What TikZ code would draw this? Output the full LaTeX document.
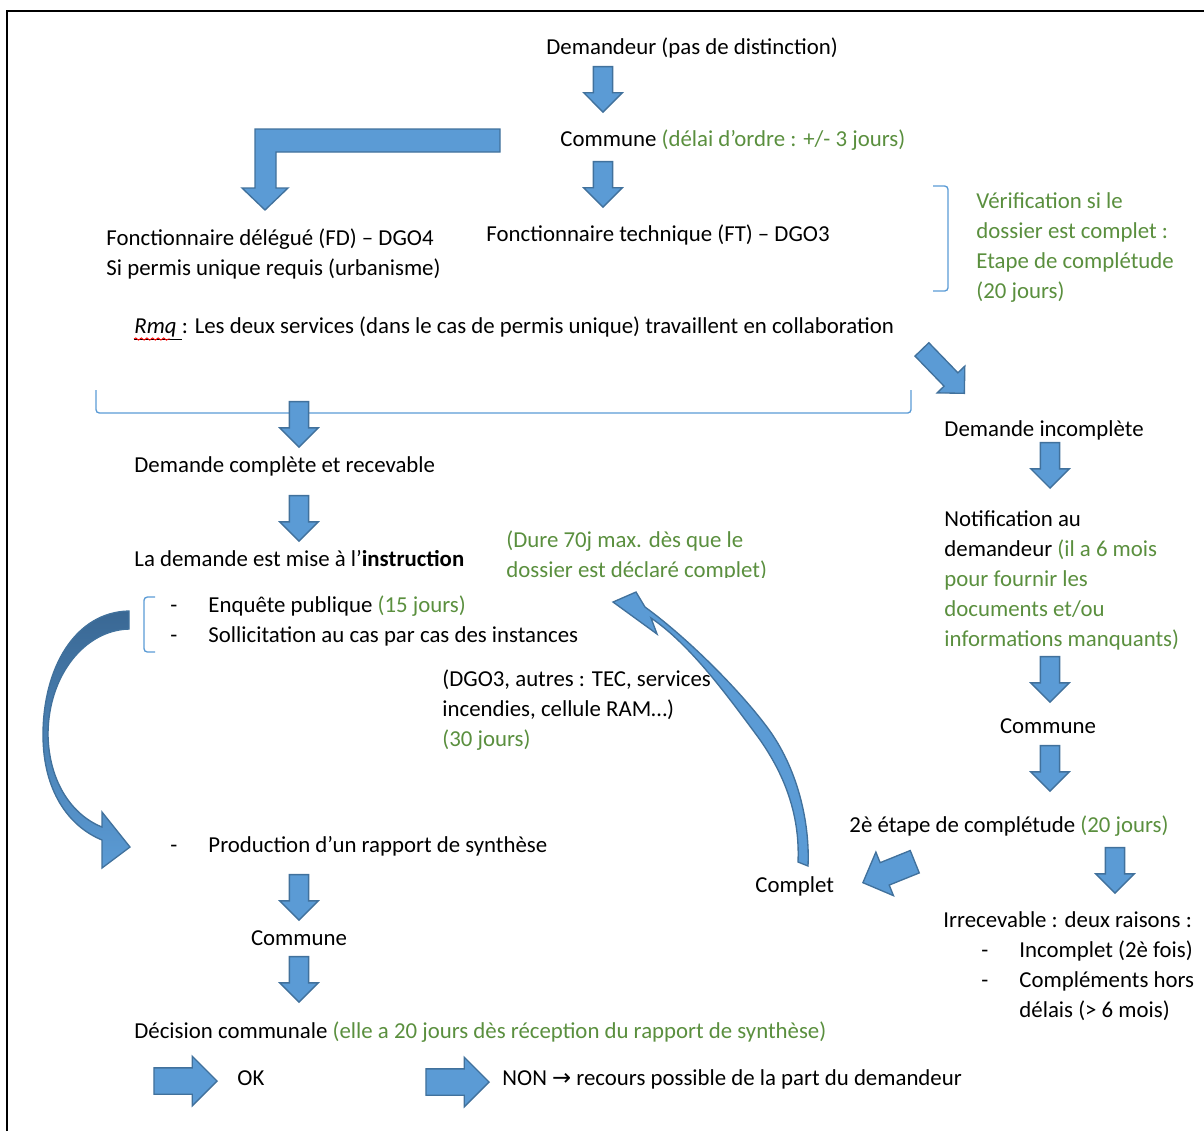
\documentclass[tikz,border=0pt]{standalone}
\usepackage{fontspec}
\setmainfont{Carlito}
\newfontfamily\symfont{DejaVu Sans}
\usetikzlibrary{shapes.arrows,decorations.pathmorphing}
\definecolor{vert}{HTML}{5A8F3E}
\definecolor{bleu}{HTML}{5B9BD5}
\definecolor{bleufonce}{HTML}{41719C}
\definecolor{bleusombre}{HTML}{3A6894}
\newcommand\vt[1]{\textcolor{vert}{#1}}
\newcommand\tiret{\makebox[17pt][l]{-}}
\tikzset{
	txt/.style={anchor=base west, inner sep=0pt, align=left, font=\fontsize{10.2}{13.4}\selectfont},
	bloc/.style={single arrow, draw=bleufonce, fill=bleu, line width=0.6pt, inner xsep=0pt, inner ysep=4pt, single arrow head extend=4.3pt, minimum width=16.6pt, minimum height=20.3pt, anchor=tip},
	bas/.style={bloc, rotate=-90},
	droite/.style={bloc, inner ysep=5.6pt, single arrow head extend=5.2pt, minimum width=21.6pt, minimum height=28.2pt},
	crochet/.style={draw=bleu, line width=0.6pt, rounded corners=1.5pt},
}
\begin{document}
\begin{tikzpicture}[x=0.447pt,y=-0.447pt]
		\useasboundingbox (0,0) rectangle (1204,1131);
		\draw [line width=1pt] (7,1131) -- (7,11) -- (1204,11);
		% crochets
		\draw [crochet] (933,186) -- (948,186) -- (948,291) -- (933,291);
		\draw [crochet] (96,390) -- (96,413) -- (911,413) -- (911,390);
		\draw [crochet] (155,597) -- (144,597) -- (144,652) -- (155,652);
		% textes (multi-lignes : base = derniere ligne)
		\node [txt] (dem) at (546,54) {Demandeur (pas de distinction)};
		\node [txt] (com1) at (560,146) {Commune \vt{(délai d’ordre : +/- 3 jours)}};
		\node [txt] (fd) at (106,275) {Fonctionnaire délégué (FD) – DGO4\\Si permis unique requis (urbanisme)};
		\node [txt] (ft) at (486,241) {Fonctionnaire technique (FT) – DGO3};
		\node [txt, text=vert] (verif) at (976,298) {Vérification si le\\dossier est complet :\\Etape de complétude\\(20 jours)};
		\node [txt] (rmq) at (134,333) {\underline{\textit{Rmq}~}: Les deux services (dans le cas de permis unique) travaillent en collaboration};
		\draw [red, line width=0.4pt, decorate, decoration={snake, amplitude=0.5pt, segment length=2.5pt}] (rmq.base west) ++(0,6) -- ++(36,0);
		\node [txt] (dcr) at (134,472) {Demande complète et recevable};
		\node [txt] (instr) at (134,566) {La demande est mise à l’\textbf{instruction}};
		\begin{scope}
			\clip (500,520) rectangle (800,577);
			\node [txt, text=vert] (dure) at (506,577) {(Dure 70j max. dès que le\\dossier est déclaré complet)};
		\end{scope}
		\node [txt] (enq) at (170,642) {\tiret Enquête publique \vt{(15 jours)}\\\tiret Sollicitation au cas par cas des instances};
		\node [txt] (dgo) at (442,746) {(DGO3, autres : TEC, services\\incendies, cellule RAM…)\\\vt{(30 jours)}};
		\node [txt] (prod) at (170,852) {\tiret Production d’un rapport de synthèse};
		\node [txt, anchor=base] (com2) at (299,945) {Commune};
		\node [txt] (dec) at (134,1038) {Décision communale \vt{(elle a 20 jours dès réception du rapport de synthèse)}};
		\node [txt] (ok) at (237,1085) {OK};
		\node [txt] (non) at (502,1085) {NON {\symfont →} recours possible de la part du demandeur};
		\node [txt] (dinc) at (944,436) {Demande incomplète};
		\node [txt] (notif) at (944,646) {Notification au\\demandeur \vt{(il a 6 mois}\\\vt{pour fournir les}\\\vt{documents et/ou}\\\vt{informations manquants)}};
		\node [txt, anchor=base] (com3) at (1048,733) {Commune};
		\node [txt] (etape) at (849,832) {2è étape de complétude \vt{(20 jours)}};
		\node [txt] (complet) at (755,892) {Complet};
		\node [txt] (irr) at (943,927) {Irrecevable : deux raisons :};
		\node [txt] (raisons) at (981,1017) {\tiret Incomplet (2è fois)\\\tiret Compléments hors\\\hspace*{17pt}délais (> 6 mois)};
		% fleches
		\node [bas] (f1) at (603,113) {};
		\node [bas] (f2) at (603,208) {};
		\node [bas] (f3) at (299,448) {};
		\node [bas] (f4) at (299,542) {};
		\node [bas] (f5) at (1050,489) {};
		\node [bas] (f6) at (1050,703) {};
		\node [bas] (f7) at (1050,792) {};
		\node [bas] (f8) at (1115,894) {};
		\node [bas] (f9) at (299,921) {};
		\node [bas] (f10) at (299,1003) {};
		\node [bloc, rotate=-46, minimum height=27.3pt] (f11) at (965,394) {};
		\node [bloc, rotate=-158, inner ysep=5.1pt, single arrow head extend=5.1pt, minimum width=20.4pt, minimum height=25pt] (f12) at (862,883) {};
		\node [droite] (f13) at (218,1081) {};
		\node [droite] (f14) at (490,1082) {};
		\draw [fill=bleu, draw=bleufonce, line width=0.6pt] (500,129) -- (255,129) -- (255,188) -- (242,188) -- (265,210) -- (288,188) -- (276,188) -- (276,152) -- (500,152) -- cycle;
		\draw [fill=bleu, draw=bleufonce, line width=0.6pt] (613,602) -- (636,592) -- (645,607)
			.. controls (685,636) and (737,687) .. (767,727)
			.. controls (797,767) and (810,821) .. (808,866) -- (798,862)
			.. controls (800,817) and (786,776) .. (758,737)
			.. controls (729,698) and (691,645) .. (651,618) -- (657,634) -- cycle;
		\draw [top color=bleusombre, bottom color=bleu, draw=bleufonce, line width=0.6pt] (129,611)
			.. controls (75,612) and (43,668) .. (43,735)
			.. controls (43,790) and (68,826) .. (102,840) -- (102,868) -- (130,847) -- (102,812) -- (102,827)
			.. controls (72,815) and (49,782) .. (48,735)
			.. controls (48,675) and (85,630) .. (129,629) -- cycle;
\end{tikzpicture}
\end{document}
